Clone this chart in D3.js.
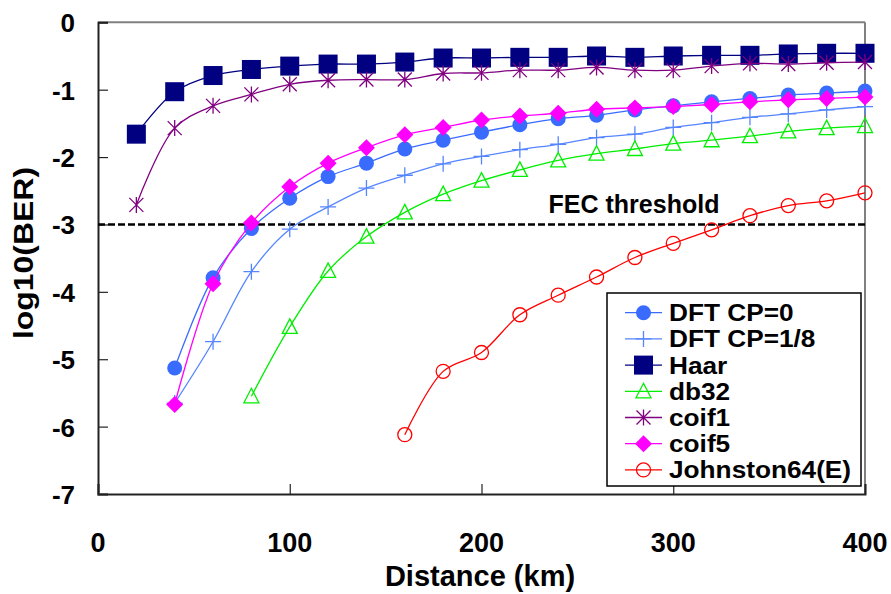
<!DOCTYPE html>
<html><head><meta charset="utf-8">
<script src="https://cdn.jsdelivr.net/npm/d3@7"></script>
<style>
body{margin:0;background:#fff;}
svg{display:block;font-family:Arial,"Liberation Sans",sans-serif;font-weight:bold;}
</style></head>
<body><svg id="c" width="891" height="594"></svg>
<script>
const distances = [20,40,60,80,100,120,140,160,180,200,220,240,260,280,300,320,340,360,380,400];
const xTicks = [0,100,200,300,400];
const yTicks = [0,-1,-2,-3,-4,-5,-6,-7];
const fecThreshold = -3;

const dftCp0   = [null,-5.13,-3.79,-3.06,-2.61,-2.29,-2.09,-1.88,-1.75,-1.63,-1.52,-1.43,-1.38,-1.30,-1.24,-1.18,-1.13,-1.08,-1.05,-1.02];
const dftCp18  = [null,-5.65,-4.74,-3.70,-3.07,-2.74,-2.46,-2.27,-2.10,-1.99,-1.89,-1.81,-1.71,-1.66,-1.56,-1.49,-1.41,-1.36,-1.30,-1.25];
const haar     = [-1.66,-1.03,-0.79,-0.70,-0.65,-0.62,-0.62,-0.59,-0.53,-0.53,-0.52,-0.52,-0.50,-0.52,-0.50,-0.49,-0.49,-0.47,-0.46,-0.46];
const db32     = [null,null,null,-5.55,-4.52,-3.69,-3.18,-2.82,-2.55,-2.35,-2.19,-2.05,-1.95,-1.88,-1.80,-1.75,-1.69,-1.62,-1.57,-1.54];
const coif1    = [-2.71,-1.57,-1.24,-1.07,-0.92,-0.86,-0.85,-0.85,-0.76,-0.75,-0.71,-0.71,-0.67,-0.71,-0.71,-0.65,-0.61,-0.62,-0.60,-0.59];
const coif5    = [null,-5.67,-3.88,-2.98,-2.44,-2.09,-1.86,-1.67,-1.56,-1.45,-1.39,-1.35,-1.29,-1.27,-1.25,-1.22,-1.18,-1.15,-1.13,-1.11];
const johnston = [null,null,null,null,null,null,null,-6.12,-5.18,-4.90,-4.34,-4.05,-3.78,-3.49,-3.28,-3.08,-2.87,-2.72,-2.65,-2.53];

const seriesNames = ["DFT CP=0","DFT CP=1/8","Haar","db32","coif1","coif5","Johnston64(E)"];
const seriesValues = [dftCp0, dftCp18, haar, db32, coif1, coif5, johnston];
const seriesColors = ["#3a6bff","#5585ff","#000080","#00ee00","#800080","#ff00ff","#ff0000"];
const seriesMarkers = ["circle","plus","square","triangle","asterisk","diamond","ocircle"];

const svg = d3.select("#c");
const L=98, R=865, T=22.3, B=494;
const x = d3.scaleLinear().domain([0,400]).range([L,R]);
const y = d3.scaleLinear().domain([-7,0]).range([B,T]);

// frame
svg.append("line").attr("x1",L).attr("x2",R).attr("y1",T).attr("y2",T).attr("stroke","#808080").attr("stroke-width",2);
svg.append("line").attr("x1",R).attr("x2",R).attr("y1",T).attr("y2",B).attr("stroke","#808080").attr("stroke-width",2);

// axes with inward ticks
const yAxis = d3.axisRight(y).tickValues(yTicks).tickSize(10).tickFormat("");
const gy = svg.append("g").attr("transform",`translate(${L},0)`).call(yAxis);
const xAxis = d3.axisTop(x).tickValues(xTicks).tickSize(10).tickFormat("");
const gx = svg.append("g").attr("transform",`translate(0,${B})`).call(xAxis);
[gx,gy].forEach(g=>{
  g.select(".domain").attr("stroke","#222").attr("stroke-width",2);
  g.selectAll(".tick line").attr("stroke","#222").attr("stroke-width",1.2);
});

// tick labels
svg.append("g").selectAll("text").data(yTicks).join("text")
  .attr("x",75).attr("y",d=>y(d)+10).attr("text-anchor","end")
  .attr("font-size",26).attr("fill","#000").text(d=>d);
svg.append("g").selectAll("text").data(xTicks).join("text")
  .attr("x",d=>x(d)).attr("y",552).attr("text-anchor","middle")
  .attr("font-size",27).attr("fill","#000").text(d=>d);

// axis titles
svg.append("text").attr("x",480).attr("y",586).attr("text-anchor","middle")
  .attr("font-size",29).text("Distance (km)");
const yt = svg.append("text").attr("transform","translate(33,253) rotate(-90)")
  .attr("text-anchor","middle").attr("font-size",28).text("log10(BER)");
function stretch(t,f){ const w=t.node().getComputedTextLength(); t.attr("textLength",w*f).attr("lengthAdjust","spacingAndGlyphs"); }
stretch(yt,1.14);

// FEC threshold
svg.append("line").attr("x1",L).attr("x2",R).attr("y1",y(fecThreshold)).attr("y2",y(fecThreshold))
  .attr("stroke","#000").attr("stroke-width",2.5).attr("stroke-dasharray","7,3");
svg.append("text").attr("x",634).attr("y",213).attr("text-anchor","middle")
  .attr("font-size",25).text("FEC threshold");

// marker drawing
function drawMarker(g, type, color){
  switch(type){
    case "circle": g.append("circle").attr("r",7.5).attr("fill",color); break;
    case "ocircle": g.append("circle").attr("r",7).attr("fill","none").attr("stroke",color).attr("stroke-width",1.3); break;
    case "square": g.append("rect").attr("x",-9.5).attr("y",-9.5).attr("width",19).attr("height",19).attr("fill",color); break;
    case "diamond": g.append("path").attr("d","M0,-8.5L8.5,0L0,8.5L-8.5,0Z").attr("fill",color); break;
    case "triangle": g.append("path").attr("d","M0,-8L7.5,6.5L-7.5,6.5Z").attr("fill","none").attr("stroke",color).attr("stroke-width",1.3); break;
    case "plus": g.append("path").attr("d","M-8,0H8M0,-8V8").attr("stroke",color).attr("stroke-width",1.3); break;
    case "asterisk": g.append("path").attr("d","M-7,-7L7,7M-7,7L7,-7M0,-8V8").attr("stroke",color).attr("stroke-width",1.3); break;
  }
}

const line = d3.line().defined(d=>d.v!=null).x(d=>x(d.d)).y(d=>y(d.v)).curve(d3.curveCatmullRom.alpha(0.5));

seriesValues.forEach((vals,i)=>{
  const data = distances.map((d,j)=>({d, v: vals[j]})).filter(p=>p.v!=null);
  const g = svg.append("g");
  g.append("path").datum(data).attr("d",line).attr("fill","none")
    .attr("stroke",seriesColors[i]).attr("stroke-width",1.3);
  data.forEach(p=>{
    const m = g.append("g").attr("transform",`translate(${x(p.d)},${y(p.v)})`);
    drawMarker(m, seriesMarkers[i], seriesColors[i]);
  });
});

// legend
const lg = svg.append("g");
lg.append("rect").attr("x",607).attr("y",293).attr("width",254).attr("height",193)
  .attr("fill","#fff").attr("stroke","#000").attr("stroke-width",1.5);
seriesNames.forEach((n,i)=>{
  const cy = 312.7 + i*26.2;
  lg.append("line").attr("x1",625).attr("x2",662).attr("y1",cy).attr("y2",cy)
    .attr("stroke",seriesColors[i]).attr("stroke-width",1.3);
  drawMarker(lg.append("g").attr("transform",`translate(643.5,${cy})`), seriesMarkers[i], seriesColors[i]);
  const t = lg.append("text").attr("x",669).attr("y",cy+8.5).attr("font-size",23).text(n);
  stretch(t,1.14);
});
</script></body></html>
